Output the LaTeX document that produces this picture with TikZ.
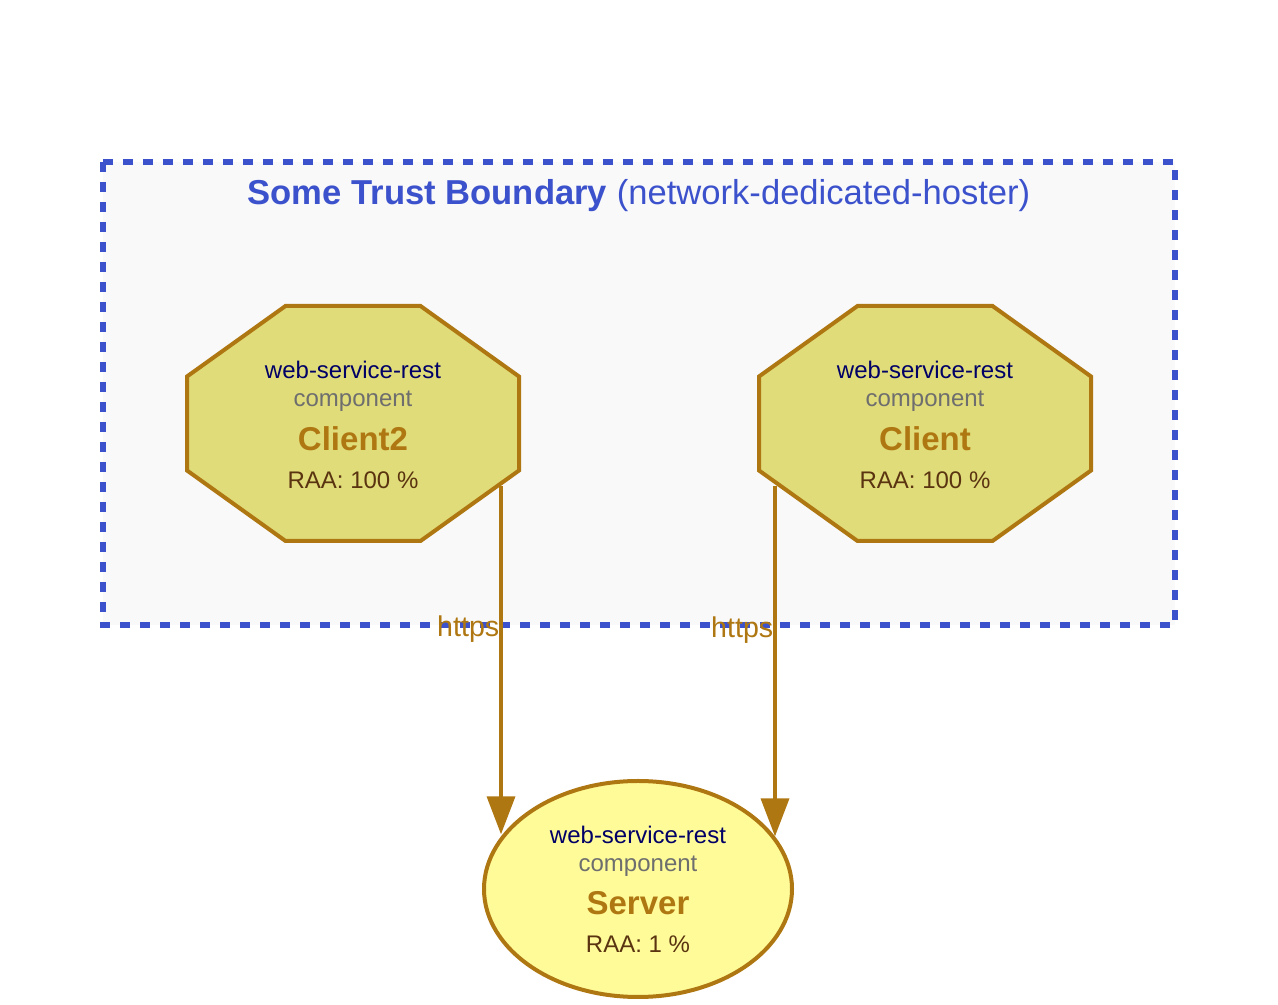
\documentclass[tikz,border=0pt]{standalone}
\usepackage{fontspec}
\setmainfont{Liberation Sans}
\usetikzlibrary{arrows.meta}
\usetikzlibrary{positioning}
\usetikzlibrary{calc}
\usetikzlibrary{shapes.geometric}

\definecolor{tbblue}{HTML}{3C52CC}
\definecolor{tbfill}{HTML}{F9F9F9}
\definecolor{assetline}{HTML}{AF7711}
\definecolor{octfill}{HTML}{E0DC7A}
\definecolor{ellfill}{HTML}{FFFB99}
\definecolor{techtext}{HTML}{000066}
\definecolor{typetext}{HTML}{6E6E6E}
\definecolor{raatext}{HTML}{5A3310}

\newcommand{\assettext}[2]{{\color{techtext}web-service-rest}\\{\color{typetext}component}\\[6.5pt]{\color{assetline}\fontsize{16.5}{18}\selectfont\bfseries #1}\\[5pt]{\color{raatext}RAA: #2}}

\tikzset{
	boundary/.style={draw=tbblue, fill=tbfill, line width=3pt, dash pattern=on 5pt off 5pt},
	octagon/.style={draw=assetline, fill=octfill, line width=2pt, line join=miter},
	asset/.style={align=center, inner sep=0pt, font=\fontsize{12}{14}\selectfont},
	flow/.style={draw=assetline, line width=1.8pt, -{Triangle[width=14pt, length=19pt]}},
	flowlabel/.style={text=assetline, inner sep=0pt, font=\fontsize{14.3}{16}\selectfont}
}

\begin{document}
\begin{tikzpicture}[x=0.5pt, y=0.5pt]
\useasboundingbox (0,0) rectangle (1278,1005);
\draw[boundary] (103,843) rectangle (1175,380);
\node[anchor=base, text=tbblue, font=\fontsize{17.3}{20}\selectfont] (tbtitle) at (639,800) {\textbf{Some Trust Boundary} (network-dedicated-hoster)};

\foreach \n/\x/\t in {c2/353/Client2, c1/925/Client} {
	\draw[octagon, shift={(\x,581.5)}] (-67.5,117.5) -- (67.5,117.5) -- (166,47) -- (166,-47) -- (67.5,-117.5) -- (-67.5,-117.5) -- (-166,-47) -- (-166,47) -- cycle;
	\node[asset] (\n) at (\x,580) {\assettext{\t}{100 \%}};
	};
\node[asset, ellipse, draw=assetline, fill=ellfill, line width=2pt, minimum width=154pt, minimum height=108pt] (srv) at (638,116) {\assettext{Server}{1 \%}};

\coordinate (c2out) at (501,519);
\coordinate (c1out) at (775,519);
\draw[flow] (c2out) -- node[flowlabel, pos=0.41, left] (l2) {https} (c2out |- srv.158.5);
\draw[flow] (c1out) -- node[flowlabel, pos=0.41, left] (l1) {https} (c1out |- srv.21.5);
\end{tikzpicture}
\end{document}
